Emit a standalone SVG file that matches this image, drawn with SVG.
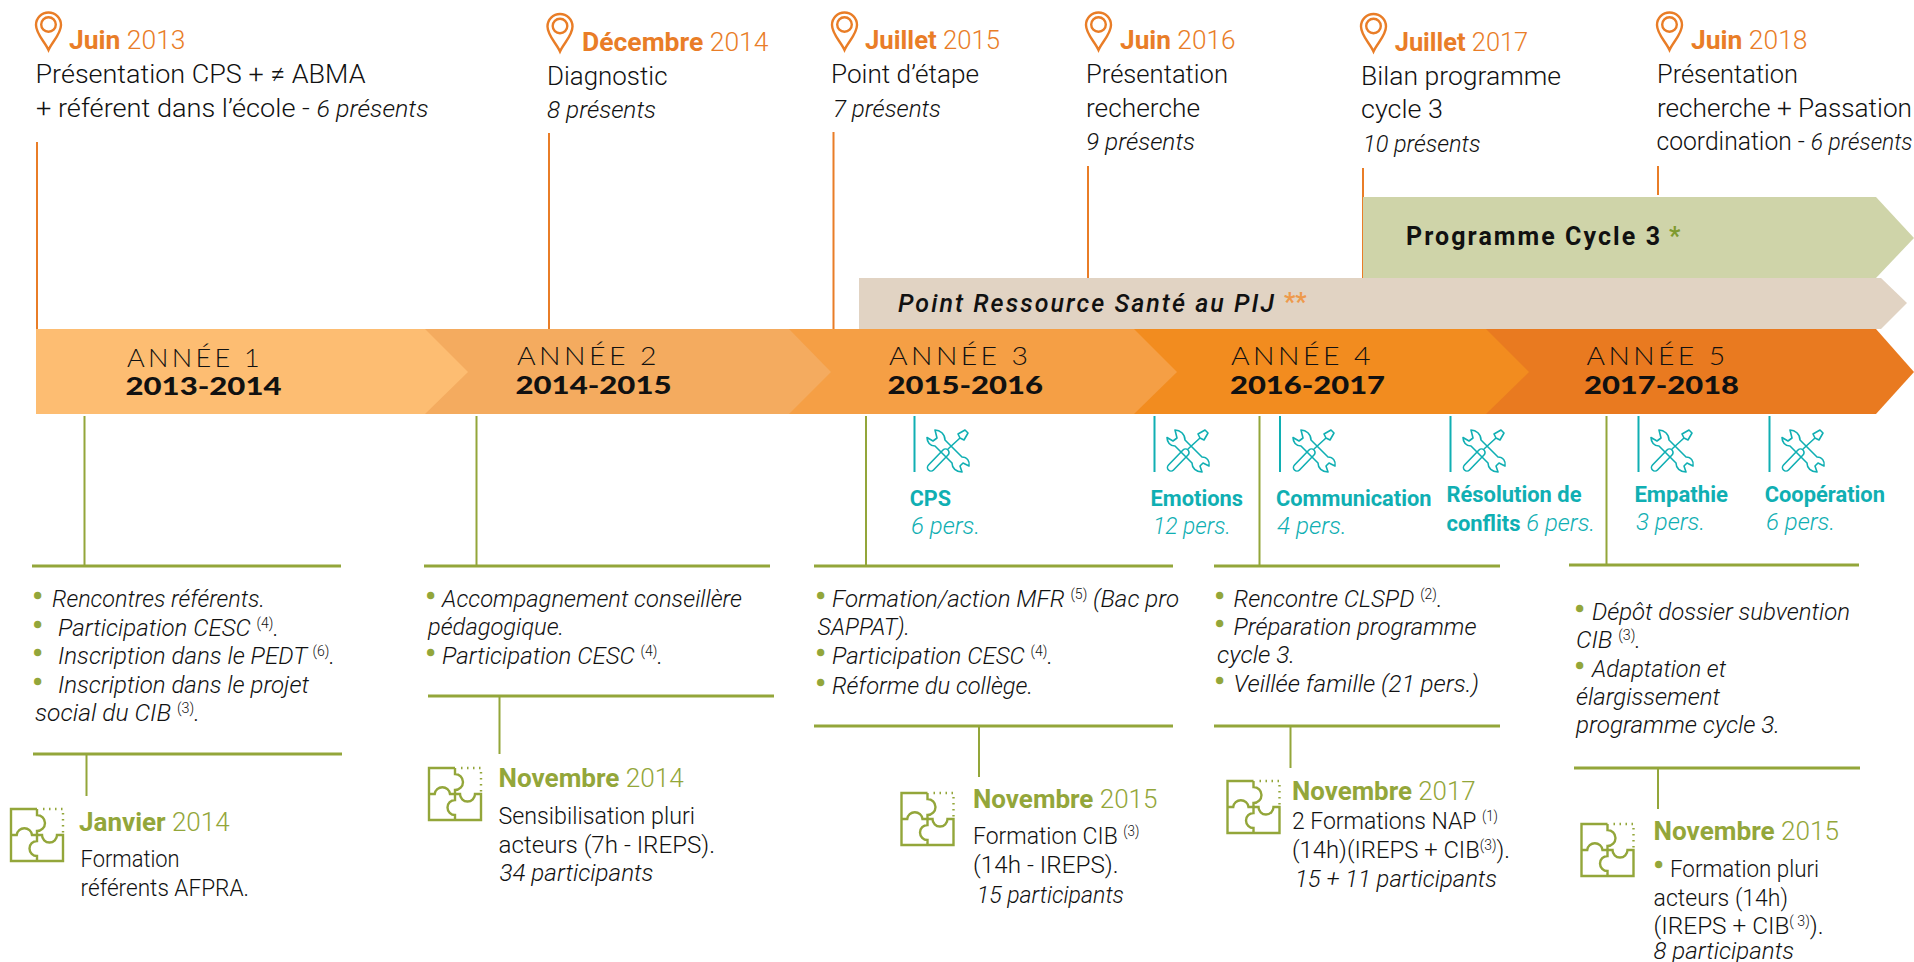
<svg xmlns="http://www.w3.org/2000/svg" width="1914" height="962" viewBox="0 0 1914 962">
<style>
text{font-family:Roboto,"Liberation Sans",sans-serif;font-weight:300;fill:#111;font-size:24px}
.t{font-size:26px;font-weight:300}
.i{font-style:italic}
.or{fill:#e97d27;font-size:25px}
.gr{fill:#93a63a;font-size:26px}
.tl{fill:#10afb3}
.tb{font-weight:700;font-size:22px;fill:#10afb3}
.b{font-weight:700}
.su{font-size:14px;font-style:normal}
.bu{fill:#93a63a;stroke:#93a63a;stroke-width:2.6;font-weight:700;font-size:20px;transform:translateY(-1.5px)}
.an{font-family:Lato,Roboto,sans-serif;font-size:25px;font-weight:300;letter-spacing:3px}
.yr{font-family:Lato,Roboto,sans-serif;font-size:24px;font-weight:900}
.bar{font-size:25px;font-weight:700}
.ln{fill:none;stroke:#e97d27;stroke-width:2}
.lg{fill:none;stroke:#93a63a;stroke-width:2}
.lh{fill:none;stroke:#93a63a;stroke-width:3}
.lt{fill:none;stroke:#10afb3;stroke-width:2}
.pz{fill:none;stroke:#93a63a;stroke-width:2.4}
.tw{fill:none;stroke:#10afb3;stroke-width:1.6;stroke-linejoin:round}
.pin{fill:none;stroke:#e97d27;stroke-width:2.4}
</style>
<defs>
<symbol id="pin" overflow="visible"><path class="pin" d="M12.5,38 C9,30 0,22 0,13 A12.5,12.5 0 0 1 25,13 C25,22 16,30 12.5,38 Z"/><circle class="pin" cx="12.5" cy="12.5" r="7.3"/></symbol>
<symbol id="puz" overflow="visible"><path class="pz" d="M26,0 H0 V52 H52 V26 H46 A7.5,7.5 0 0 1 31,26 H21 A7.7,7.7 0 0 0 5.7,26 H0 M26,0 V6 A8,8 0 0 1 26,22 V32 A7.5,7.5 0 0 0 26,47 V52"/><path class="pz" stroke-dasharray="1.5 4.5" d="M32,0 H52 V24"/></symbol>
<symbol id="tool" overflow="visible"><path class="tw" d="M1.5,35 L16,20 a3.5,3.5 0 0 1 5,5 L6.5,40 a3.5,3.5 0 0 1 -5,-5 Z M21,19 L33,8 M33,8 L31,4 L38,0 L41,3 L37,10 Z"/><path class="tw" d="M8,0 C13,0 18,4 18,10 L35,27 C40,27 43,31 42,36 L36,33 L33,36 L35,42 C29,42 25,38 25,33 L8,16 C3,16 0,12 0,7.5 L6,11 L10,8 Z"/></symbol>
</defs>
<g id="connectors">
<path class="ln" d="M37,142 V330 M549,133 V330 M833.500,132 V330 M1088,166 V278 M1363,168 V278 M1658,166 V195"/>
<path class="lg" d="M84.500,416 V566 M476.500,416 V566 M866,416 V566 M1259.500,416 V566 M1606.500,416 V565 M86.500,754 V796 M499.500,696 V754 M979,726 V777 M1290.500,726 V768 M1658,768 V809"/>
<path class="lh" d="M32,566 H341 M424,566 H770 M814,566 H1173 M1214,566 H1500 M1569,565 H1859 M33,754 H342 M428,696 H774 M814,726 H1173 M1214,726 H1500 M1574,768 H1860"/>
<path class="lt" d="M914.500,416 V472 M1154.500,416 V472 M1280,416 V472 M1450.500,416 V472 M1638.500,416 V472 M1769.500,416 V472"/>
</g>
<g id="bars">
<g id="bar-cycle3"><polygon fill="#cfd4a9" points="1363,197 1876,197 1914,238 1876,278 1363,278"/><text class="bar" x="1406" y="245" textLength="254">Programme Cycle 3</text><text x="1669" y="245" style="fill:#7f9a2e;font-weight:700;font-size:25px">*</text></g>
<g id="bar-pij"><polygon fill="#e1d3c3" points="859,278 1881,278 1907,303 1881,329 859,329"/><text class="bar i" x="898" y="312" textLength="376" style="font-weight:500">Point Ressource Santé au PIJ</text><text x="1284" y="311" style="fill:#ee9a4c;font-weight:700;font-size:25px">**</text></g>
</g>
<g id="years">
<g id="year-5"><polygon fill="#e97a20" points="1486,329 1876,329 1914,372 1876,414 1486,414"/><text class="an" x="1586.500" y="364.500" textLength="142" lengthAdjust="spacingAndGlyphs">ANNÉE 5</text><text class="yr" x="1584" y="393.500" textLength="155" lengthAdjust="spacingAndGlyphs">2017-2018</text></g>
<g id="year-4"><polygon fill="#f28c1f" points="1134,329 1486,329 1529,372 1486,414 1134,414"/><text class="an" x="1231" y="364.500" textLength="143" lengthAdjust="spacingAndGlyphs">ANNÉE 4</text><text class="yr" x="1230" y="393.500" textLength="155" lengthAdjust="spacingAndGlyphs">2016-2017</text></g>
<g id="year-3"><polygon fill="#f59f45" points="789,329 1134,329 1177,372 1134,414 789,414"/><text class="an" x="889" y="364.500" textLength="142.500" lengthAdjust="spacingAndGlyphs">ANNÉE 3</text><text class="yr" x="887.500" y="393.500" textLength="155.500" lengthAdjust="spacingAndGlyphs">2015-2016</text></g>
<g id="year-2"><polygon fill="#f4ab5f" points="425,329 789,329 831,372 789,414 425,414"/><text class="an" x="517" y="364.500" textLength="143" lengthAdjust="spacingAndGlyphs">ANNÉE 2</text><text class="yr" x="515.500" y="393.500" textLength="156" lengthAdjust="spacingAndGlyphs">2014-2015</text></g>
<g id="year-1"><polygon fill="#fdbd72" points="36,329 425,329 468,372 425,414 36,414"/><text class="an" x="127" y="366.500" textLength="136" lengthAdjust="spacingAndGlyphs">ANNÉE 1</text><text class="yr" x="125.500" y="394.500" textLength="156" lengthAdjust="spacingAndGlyphs">2013-2014</text></g>
</g>
<g id="event-2013-06"><use href="#pin" x="36" y="12"/><text class="or" x="69" y="49" textLength="116.500" lengthAdjust="spacingAndGlyphs"><tspan class="b">Juin</tspan> 2013</text><text class="t" x="35.500" y="83" textLength="330" lengthAdjust="spacingAndGlyphs">Présentation CPS + ≠ ABMA</text><text class="t" x="36" y="116.700" textLength="392.500" lengthAdjust="spacingAndGlyphs">+ référent dans l’école - <tspan class="i" style="font-size:24px">6 présents</tspan></text></g>
<g id="event-2014-12"><use href="#pin" x="547.500" y="13.500"/><text class="or" x="582" y="51" textLength="186.500" lengthAdjust="spacingAndGlyphs"><tspan class="b">Décembre</tspan> 2014</text><text class="t" x="547" y="84.700" textLength="120.500" lengthAdjust="spacingAndGlyphs">Diagnostic</text><text class="i" x="547" y="118" textLength="109" lengthAdjust="spacingAndGlyphs">8 présents</text></g>
<g id="event-2015-07"><use href="#pin" x="832" y="12"/><text class="or" x="865" y="49" textLength="135" lengthAdjust="spacingAndGlyphs"><tspan class="b">Juillet</tspan> 2015</text><text class="t" x="831" y="83" textLength="148" lengthAdjust="spacingAndGlyphs">Point d’étape</text><text class="i" x="833" y="116.700" textLength="108" lengthAdjust="spacingAndGlyphs">7 présents</text></g>
<g id="event-2016-06"><use href="#pin" x="1086" y="12"/><text class="or" x="1120" y="49" textLength="115.500" lengthAdjust="spacingAndGlyphs"><tspan class="b">Juin</tspan> 2016</text><text class="t" x="1086" y="83" textLength="142" lengthAdjust="spacingAndGlyphs">Présentation</text><text class="t" x="1086" y="116.700" textLength="114" lengthAdjust="spacingAndGlyphs">recherche</text><text class="i" x="1086" y="150" textLength="109" lengthAdjust="spacingAndGlyphs">9 présents</text></g>
<g id="event-2017-07"><use href="#pin" x="1361" y="13.500"/><text class="or" x="1394.700" y="51" textLength="133.500" lengthAdjust="spacingAndGlyphs"><tspan class="b">Juillet</tspan> 2017</text><text class="t" x="1361" y="84.700" textLength="200" lengthAdjust="spacingAndGlyphs">Bilan programme</text><text class="t" x="1361" y="118" textLength="82" lengthAdjust="spacingAndGlyphs">cycle 3</text><text class="i" x="1363" y="151.700" textLength="117.500" lengthAdjust="spacingAndGlyphs">10 présents</text></g>
<g id="event-2018-06"><use href="#pin" x="1657" y="12"/><text class="or" x="1691" y="49" textLength="116.500" lengthAdjust="spacingAndGlyphs"><tspan class="b">Juin</tspan> 2018</text><text class="t" x="1657" y="83" textLength="141" lengthAdjust="spacingAndGlyphs">Présentation</text><text class="t" x="1657" y="116.700" textLength="255" lengthAdjust="spacingAndGlyphs">recherche + Passation</text><text class="t" x="1656.500" y="150" textLength="256" lengthAdjust="spacingAndGlyphs">coordination - <tspan class="i" style="font-size:24px">6 présents</tspan></text></g>
<g id="workshop-cps"><use href="#tool" x="927" y="430"/><text class="tb" x="909.700" y="506" textLength="41.300" lengthAdjust="spacingAndGlyphs">CPS</text><text class="tl i" x="911" y="534" textLength="69" lengthAdjust="spacingAndGlyphs">6 pers.</text></g>
<g id="workshop-emotions"><use href="#tool" x="1167" y="430"/><text class="tb" x="1150.600" y="506" textLength="92.400" lengthAdjust="spacingAndGlyphs">Emotions</text><text class="tl i" x="1153" y="534" textLength="77.700" lengthAdjust="spacingAndGlyphs">12 pers.</text></g>
<g id="workshop-communication"><use href="#tool" x="1293" y="430"/><text class="tb" x="1276" y="506" textLength="155.500" lengthAdjust="spacingAndGlyphs">Communication</text><text class="tl i" x="1277" y="534" textLength="69.700" lengthAdjust="spacingAndGlyphs">4 pers.</text></g>
<g id="workshop-conflits"><use href="#tool" x="1463" y="430"/><text class="tb" x="1446.500" y="502" textLength="135" lengthAdjust="spacingAndGlyphs">Résolution de</text><text class="tl" x="1446.500" y="530.600" textLength="148.500" lengthAdjust="spacingAndGlyphs"><tspan class="tb">conflits</tspan> <tspan class="i">6 pers.</tspan></text></g>
<g id="workshop-empathie"><use href="#tool" x="1651" y="430"/><text class="tb" x="1634.400" y="502" textLength="93.600" lengthAdjust="spacingAndGlyphs">Empathie</text><text class="tl i" x="1636" y="530" textLength="69" lengthAdjust="spacingAndGlyphs">3 pers.</text></g>
<g id="workshop-cooperation"><use href="#tool" x="1782" y="430"/><text class="tb" x="1764.700" y="502" textLength="120.300" lengthAdjust="spacingAndGlyphs">Coopération</text><text class="tl i" x="1766" y="530" textLength="69" lengthAdjust="spacingAndGlyphs">6 pers.</text></g>
<g id="list-1"><text class="bu" x="34" y="604">•</text><text class="i" x="52" y="606.700" textLength="213" lengthAdjust="spacingAndGlyphs">Rencontres référents.</text><text class="bu" x="34" y="633">•</text><text class="i" x="58" y="635.700" textLength="221" lengthAdjust="spacingAndGlyphs">Participation CESC <tspan class="su" dy="-8">(4)</tspan><tspan dy="8">.</tspan></text><text class="bu" x="34" y="661">•</text><text class="i" x="58" y="664" textLength="277" lengthAdjust="spacingAndGlyphs">Inscription dans le PEDT <tspan class="su" dy="-8">(6)</tspan><tspan dy="8">.</tspan></text><text class="bu" x="34" y="690">•</text><text class="i" x="58" y="692.700" textLength="251" lengthAdjust="spacingAndGlyphs">Inscription dans le projet</text><text class="i" x="35" y="721" textLength="165" lengthAdjust="spacingAndGlyphs">social du CIB <tspan class="su" dy="-8">(3)</tspan><tspan dy="8">.</tspan></text></g>
<g id="list-2"><text class="bu" x="427" y="604">•</text><text class="i" x="442" y="606.700" textLength="300" lengthAdjust="spacingAndGlyphs">Accompagnement conseillère</text><text class="i" x="428" y="635" textLength="136" lengthAdjust="spacingAndGlyphs">pédagogique.</text><text class="bu" x="427" y="661">•</text><text class="i" x="442" y="664" textLength="221" lengthAdjust="spacingAndGlyphs">Participation CESC <tspan class="su" dy="-8">(4)</tspan><tspan dy="8">.</tspan></text></g>
<g id="list-3"><text class="bu" x="817" y="604">•</text><text class="i" x="832" y="606.700" textLength="347" lengthAdjust="spacingAndGlyphs">Formation/action MFR <tspan class="su" dy="-8">(5)</tspan><tspan dy="8"> (Bac pro</tspan></text><text class="i" x="817.600" y="635" textLength="92.400" lengthAdjust="spacingAndGlyphs">SAPPAT).</text><text class="bu" x="817" y="661">•</text><text class="i" x="832" y="664" textLength="221" lengthAdjust="spacingAndGlyphs">Participation CESC <tspan class="su" dy="-8">(4)</tspan><tspan dy="8">.</tspan></text><text class="bu" x="817" y="691">•</text><text class="i" x="832" y="694" textLength="201" lengthAdjust="spacingAndGlyphs">Réforme du collège.</text></g>
<g id="list-4"><text class="bu" x="1216" y="604">•</text><text class="i" x="1233.500" y="606.700" textLength="209" lengthAdjust="spacingAndGlyphs">Rencontre CLSPD <tspan class="su" dy="-8">(2)</tspan><tspan dy="8">.</tspan></text><text class="bu" x="1216" y="632">•</text><text class="i" x="1233.500" y="635" textLength="243" lengthAdjust="spacingAndGlyphs">Préparation programme</text><text class="i" x="1217" y="662.700" textLength="78" lengthAdjust="spacingAndGlyphs">cycle 3.</text><text class="bu" x="1216" y="689">•</text><text class="i" x="1233.500" y="691.700" textLength="245.500" lengthAdjust="spacingAndGlyphs">Veillée famille (21 pers.)</text></g>
<g id="list-5"><text class="bu" x="1576" y="617">•</text><text class="i" x="1592" y="620" textLength="258" lengthAdjust="spacingAndGlyphs">Dépôt dossier subvention</text><text class="i" x="1576" y="648" textLength="65" lengthAdjust="spacingAndGlyphs">CIB <tspan class="su" dy="-8">(3)</tspan><tspan dy="8">.</tspan></text><text class="bu" x="1576" y="674">•</text><text class="i" x="1592" y="676.700" textLength="134" lengthAdjust="spacingAndGlyphs">Adaptation et</text><text class="i" x="1576" y="705" textLength="144" lengthAdjust="spacingAndGlyphs">élargissement</text><text class="i" x="1576" y="733" textLength="204" lengthAdjust="spacingAndGlyphs">programme cycle 3.</text></g>
<g id="training-2014-01"><use href="#puz" x="11" y="809"/><text class="gr" x="79" y="830.700" textLength="150.600" lengthAdjust="spacingAndGlyphs"><tspan class="b">Janvier</tspan> 2014</text><text x="80.600" y="867" textLength="99" lengthAdjust="spacingAndGlyphs">Formation</text><text x="80.600" y="896" textLength="168.400" lengthAdjust="spacingAndGlyphs">référents AFPRA.</text></g>
<g id="training-2014-11"><use href="#puz" x="429" y="768"/><text class="gr" x="498.500" y="786.700" textLength="185.200" lengthAdjust="spacingAndGlyphs"><tspan class="b">Novembre</tspan> 2014</text><text x="498.500" y="824" textLength="196.500" lengthAdjust="spacingAndGlyphs">Sensibilisation pluri</text><text x="498.500" y="852.700" textLength="216.500" lengthAdjust="spacingAndGlyphs">acteurs (7h - IREPS).</text><text class="i" x="499.500" y="881" textLength="154" lengthAdjust="spacingAndGlyphs">34 participants</text></g>
<g id="training-2015-11"><use href="#puz" x="901.500" y="793"/><text class="gr" x="973" y="808" textLength="184.500" lengthAdjust="spacingAndGlyphs"><tspan class="b">Novembre</tspan> 2015</text><text x="973" y="844" textLength="166.400" lengthAdjust="spacingAndGlyphs">Formation CIB <tspan class="su" dy="-8">(3)</tspan></text><text x="973" y="873" textLength="145.500" lengthAdjust="spacingAndGlyphs">(14h - IREPS).</text><text class="i" x="976.700" y="902.700" textLength="147.300" lengthAdjust="spacingAndGlyphs">15 participants</text></g>
<g id="training-2017-11"><use href="#puz" x="1227.500" y="781"/><text class="gr" x="1292" y="800" textLength="183.700" lengthAdjust="spacingAndGlyphs"><tspan class="b">Novembre</tspan> 2017</text><text x="1292" y="829" textLength="206" lengthAdjust="spacingAndGlyphs">2 Formations NAP <tspan class="su" dy="-8">(1)</tspan></text><text x="1292" y="858" textLength="218" lengthAdjust="spacingAndGlyphs">(14h)(IREPS + CIB<tspan class="su" dy="-8">(3)</tspan><tspan dy="8">).</tspan></text><text class="i" x="1295" y="886.700" textLength="202" lengthAdjust="spacingAndGlyphs">15 + 11 participants</text></g>
<g id="training-2015-11b"><use href="#puz" x="1581.500" y="824"/><text class="gr" x="1653.600" y="840" textLength="185.400" lengthAdjust="spacingAndGlyphs"><tspan class="b">Novembre</tspan> 2015</text><text class="bu" x="1655" y="873">•</text><text x="1670" y="877" textLength="149" lengthAdjust="spacingAndGlyphs">Formation pluri</text><text x="1653.600" y="906" textLength="134.400" lengthAdjust="spacingAndGlyphs">acteurs (14h)</text><text x="1653.600" y="934" textLength="170" lengthAdjust="spacingAndGlyphs">(IREPS + CIB<tspan class="su" dy="-8">( 3)</tspan><tspan dy="8">).</tspan></text><text class="i" x="1653.600" y="959" textLength="140.400" lengthAdjust="spacingAndGlyphs">8 participants</text></g>
</svg>
